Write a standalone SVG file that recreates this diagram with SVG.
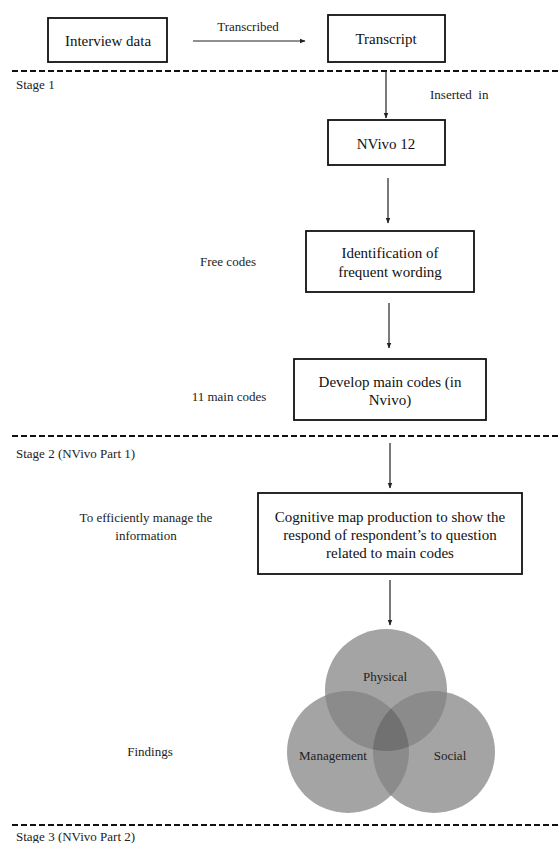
<svg xmlns="http://www.w3.org/2000/svg" width="558" height="843" viewBox="0 0 558 843">
<defs>
<style>
.box{fill:#fff;stroke:#111;stroke-width:1.8}
.t{font-family:"Liberation Serif","Times New Roman",serif;font-size:15px;fill:#111;text-anchor:middle}
.s{font-family:"Liberation Serif","Times New Roman",serif;font-size:13px;fill:#222}
.c{text-anchor:middle}
.dash{stroke:#111;stroke-width:2;stroke-dasharray:6 3;fill:none}
.ln{stroke:#222;stroke-width:1.2;fill:none;marker-end:url(#ah)}
</style>
<marker id="ah" viewBox="0 0 10 10" refX="9" refY="5" markerWidth="6" markerHeight="6" orient="auto" markerUnits="userSpaceOnUse">
<path d="M0,1 L10,5 L0,9 z" fill="#222"/>
</marker>
<clipPath id="cP"><circle cx="386" cy="690" r="61"/></clipPath>
<clipPath id="cM"><circle cx="348" cy="752" r="61"/></clipPath>
<clipPath id="cS"><circle cx="434" cy="752" r="61"/></clipPath>
</defs>
<rect width="558" height="843" fill="#fff"/>

<g id="stage-lines">
<line class="dash" x1="12" y1="71" x2="558" y2="71"/>
<line class="dash" x1="12" y1="436" x2="558" y2="436"/>
<line class="dash" x1="12" y1="825" x2="558" y2="825"/>
<text class="s" x="16" y="89">Stage 1</text>
<text class="s" x="16" y="458">Stage 2 (NVivo Part 1)</text>
<text class="s" x="16" y="841">Stage 3 (NVivo Part 2)</text>
</g>

<g id="connectors">
<line class="ln" x1="193" y1="41" x2="305" y2="41"/>
<text class="s c" x="248" y="31">Transcribed</text>
<line class="ln" x1="386" y1="71" x2="386" y2="118"/>
<text class="s" x="430" y="99" xml:space="preserve">Inserted  in</text>
<line class="ln" x1="388" y1="178" x2="388" y2="223"/>
<line class="ln" x1="389" y1="303" x2="389" y2="348"/>
<line class="ln" x1="390" y1="443" x2="390" y2="488"/>
<line class="ln" x1="390" y1="580" x2="390" y2="625"/>
</g>

<g id="interview-data">
<rect class="box" x="48" y="18" width="119" height="44"/>
<text class="t" x="108" y="46">Interview data</text>
</g>

<g id="transcript">
<rect class="box" x="328" y="15" width="117" height="47"/>
<text class="t" x="386" y="44">Transcript</text>
</g>

<g id="nvivo12">
<rect class="box" x="328" y="120" width="117" height="45"/>
<text class="t" x="386" y="149">NVivo 12</text>
</g>

<g id="identification">
<rect class="box" x="306" y="231" width="168" height="61"/>
<text class="t" x="390" y="258">Identification of</text>
<text class="t" x="390" y="277">frequent wording</text>
</g>
<g id="free-codes-label">
<text class="s c" x="228" y="266">Free codes</text>
</g>

<g id="develop-main-codes">
<rect class="box" x="294" y="359" width="192" height="61"/>
<text class="t" x="390" y="387">Develop main codes (in</text>
<text class="t" x="390" y="405">Nvivo)</text>
</g>
<g id="main-codes-label">
<text class="s c" x="229" y="401">11 main codes</text>
</g>

<g id="cognitive-map">
<rect class="box" x="258" y="493" width="264" height="81"/>
<text class="t" x="390" y="522">Cognitive map production to show the</text>
<text class="t" x="390" y="540">respond of respondent’s to question</text>
<text class="t" x="390" y="558">related to main codes</text>
</g>
<g id="manage-label">
<text class="s c" x="146" y="522">To efficiently manage the</text>
<text class="s c" x="146" y="540">information</text>
</g>

<g id="venn">
<circle cx="386" cy="690" r="61" fill="#a4a4a4"/>
<circle cx="348" cy="752" r="61" fill="#a4a4a4"/>
<circle cx="434" cy="752" r="61" fill="#a4a4a4"/>
<circle cx="386" cy="690" r="61" fill="#8b8b8b" clip-path="url(#cM)"/>
<circle cx="386" cy="690" r="61" fill="#8b8b8b" clip-path="url(#cS)"/>
<circle cx="348" cy="752" r="61" fill="#8b8b8b" clip-path="url(#cS)"/>
<g clip-path="url(#cS)"><circle cx="386" cy="690" r="61" fill="#717171" clip-path="url(#cM)"/></g>
<text class="s c" x="385" y="681">Physical</text>
<text class="s c" x="333" y="760">Management</text>
<text class="s c" x="450" y="760">Social</text>
</g>
<g id="findings-label">
<text class="s c" x="150" y="756">Findings</text>
</g>
</svg>
